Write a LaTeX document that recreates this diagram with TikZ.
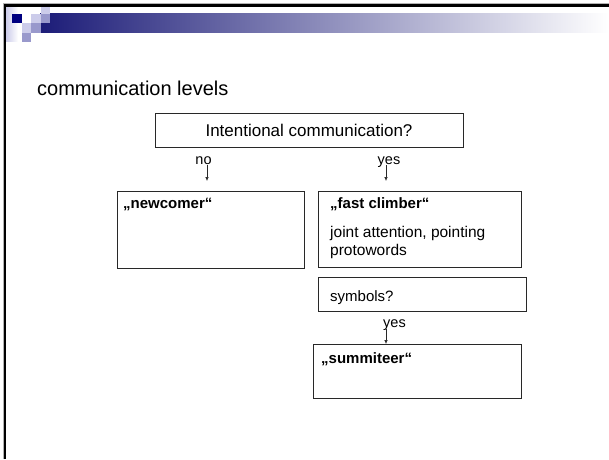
\documentclass[tikz,border=0pt]{standalone}
\usepackage{fontspec}
\setmainfont{Liberation Sans}
\usetikzlibrary{positioning,arrows.meta}
\definecolor{slideNavy}{RGB}{0,0,128}
\definecolor{barNavy}{RGB}{28,28,120}
\definecolor{squareLight}{RGB}{204,204,234}
\definecolor{squareMid}{RGB}{153,153,204}
\definecolor{frameGray}{RGB}{40,40,40}

\begin{document}
\begin{tikzpicture}[x=1pt, y=-1pt,
    box/.style={rectangle, draw=frameGray, line width=0.8pt, inner sep=0pt},
    heading/.style={anchor=base west, inner sep=0pt, font=\fontsize{15}{18}\selectfont\bfseries},
    bodytext/.style={anchor=base west, inner sep=0pt, font=\fontsize{15.5}{18}\selectfont},
    answer/.style={anchor=base, inner sep=0pt, font=\fontsize{14.5}{17}\selectfont},
    pointer/.style={-{Latex[length=4pt,width=3.5pt]}, line width=0.6pt, frameGray}
]
\useasboundingbox (0,0) rectangle (609,459);

% Slide header
\shade[left color=squareLight, right color=white] (6,6) rectangle (18,41);
\shade[left color=barNavy, right color=white] (40,13) rectangle (609,32);
\foreach \col/\row/\tone in {12/13.5/slideNavy, 31/13.5/squareLight, 40.5/4/squareLight,
    40.5/13.5/squareMid, 21.5/23/squareLight, 31/23/squareMid, 21.5/32.5/squareMid}
  \fill[\tone] (\col,\row) rectangle ++(9.5,9.5);
\draw[gray!60, line width=0.7pt] (3.2,459) -- (3.2,3.6) -- (609,3.6);
\draw[black, line width=2.5pt] (4.8,459) -- (4.8,5.5) -- (609,5.5);

% Title
\node[anchor=base west, inner sep=0pt, font=\fontsize{20}{24}\selectfont] (title) at (37,95) {communication levels};

% Question
\node[box, minimum width=308pt, minimum height=34pt, font=\fontsize{17}{20}\selectfont] (question) at (309,130) {Intentional communication?};
\node[answer] (no) at (203.5,164) {no};
\node[answer] (yes) at (389,164) {yes};

% Levels
\node[box, minimum width=187pt, minimum height=77pt] (newcomer) at (210.5,229.5) {};
\node[heading] (newcomerlabel) at (123,208) {„newcomer“};

\node[box, minimum width=203pt, minimum height=76pt] (climber) at (419.5,229) {};
\node[heading] (climberlabel) at (330,208) {„fast climber“};
\node[bodytext] (joint) at (330,237) {joint attention, pointing};
\node[bodytext] (protowords) at (330,255) {protowords};

\node[box, minimum width=208pt, minimum height=34pt] (symbols) at (422,294) {};
\node[bodytext, font=\fontsize{15}{18}\selectfont] (symbolslabel) at (330,301.5) {symbols?};
\node[answer] (yesagain) at (394.5,327) {yes};

\node[box, minimum width=208pt, minimum height=54pt] (summiteer) at (417,371) {};
\node[heading] (summiteerlabel) at (321,363) {„summiteer“};

% Arrows
\coordinate (noTip) at (207,181);
\coordinate (yesTip) at (386,181);
\coordinate (yesagainTip) at (386,344);
\draw[pointer] ([xshift=3.5pt, yshift=-1pt]no.base) -- (noTip);
\draw[pointer] ([xshift=-3pt, yshift=-1pt]yes.base) -- (yesTip);
\draw[pointer] ([xshift=-8.5pt, yshift=-2pt]yesagain.base) -- (yesagainTip);

\end{tikzpicture}
\end{document}
